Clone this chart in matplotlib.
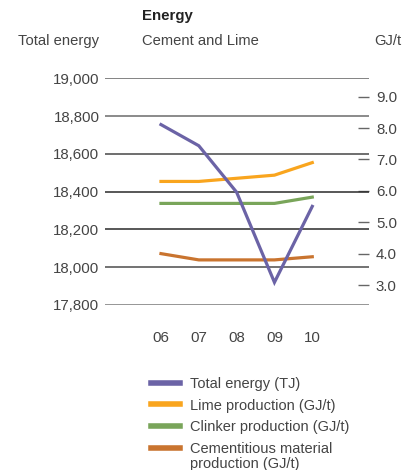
import matplotlib
matplotlib.use("Agg")
import matplotlib.pyplot as plt

plt.rcParams['font.family'] = ['Liberation Sans', 'DejaVu Sans']

# Data
years = ["06", "07", "08", "09", "10"]
total_energy_tj = [18755, 18643, 18397, 17920, 18322]
lime_gj_t = [6.3, 6.3, 6.4, 6.5, 6.9]
clinker_gj_t = [5.6, 5.6, 5.6, 5.6, 5.8]
cementitious_gj_t = [4.0, 3.8, 3.8, 3.8, 3.9]

left_ticks = [17800, 18000, 18200, 18400, 18600, 18800, 19000]
right_ticks = [3.0, 4.0, 5.0, 6.0, 7.0, 8.0, 9.0]

series_labels = ["Total energy (TJ)", "Lime production (GJ/t)",
                 "Clinker production (GJ/t)", "Cementitious material"]
last_label_cont = "production (GJ/t)"

PURPLE = "#6b63a6"
ORANGE = "#f9a51e"
GREEN = "#79a55a"
BROWN = "#c9742f"
TEXT = "#444444"

W, H = 419, 470
fig = plt.figure(figsize=(W / 100, H / 100), dpi=100)

def fx(px):
    return px / W

def fy(py):
    return 1 - py / H

ax = fig.add_axes([fx(105), fy(305), fx(369) - fx(105), fy(78.3) - fy(305)])
ax2 = ax.twinx()

x = list(range(len(years)))
ax.set_xlim(-1.48, 5.5)
ax.set_ylim(17800, 19000)
ax2.set_ylim(2.363, 9.586)

# horizontal rules for the left scale
grid_colors = ["#8c8c8c", "#5a5a5a", "#2a2a2a", "#2a2a2a", "#555555", "#8a8a8a", "#7a7a7a"]
grid_widths = [2.0, 1.2, 1.1, 1.1, 1.2, 1.4, 1.3]
for val, c, lw in zip(left_ticks, grid_colors, grid_widths):
    ax.axhline(val, color=c, lw=lw, zorder=1)

l_total, = ax.plot(x, total_energy_tj, color=PURPLE, lw=2.3, zorder=5,
                   solid_joinstyle='miter')
l_lime, = ax2.plot(x, lime_gj_t, color=ORANGE, lw=2.3, zorder=4)
l_clinker, = ax2.plot(x, clinker_gj_t, color=GREEN, lw=2.3, zorder=4)
l_cem, = ax2.plot(x, cementitious_gj_t, color=BROWN, lw=2.3, zorder=4)
ax.set_zorder(ax2.get_zorder() + 1)
ax.patch.set_visible(False)

for a in (ax, ax2):
    for s in a.spines.values():
        s.set_visible(False)

ax.set_yticks(left_ticks)
ax.set_yticklabels([f"{v:,}" for v in left_ticks])
ax.tick_params(axis='y', length=0, pad=4, labelsize=10.8, labelcolor=TEXT)
ax.set_xticks(x)
ax.set_xticklabels(years)
ax.tick_params(axis='x', length=0, pad=19, labelsize=10.8, labelcolor=TEXT)

ax2.set_yticks(right_ticks)
ax2.set_yticklabels([f"{v:.1f}" for v in right_ticks])
ax2.tick_params(axis='y', direction='in', length=8, width=1.0, color="#666666",
                pad=5, labelsize=10.8, labelcolor=TEXT)

# headings
fig.text(fx(142), fy(16), "Energy", fontsize=10.8, fontweight='bold',
         color="#222222", va='center', ha='left')
fig.text(fx(18), fy(41), "Total energy", fontsize=10.6, color=TEXT,
         va='center', ha='left')
fig.text(fx(142), fy(41), "Cement and Lime", fontsize=10.6, color=TEXT,
         va='center', ha='left')
fig.text(fx(374), fy(41), "GJ/t", fontsize=10.6, color=TEXT,
         va='center', ha='left')

leg = fig.legend([l_total, l_lime, l_clinker, l_cem], series_labels,
                 loc='upper left', bbox_to_anchor=(fx(151), fy(377)),
                 frameon=False, fontsize=10.5, handlelength=2.0,
                 handletextpad=0.7, labelspacing=0.52, borderaxespad=0,
                 borderpad=0)
for t in leg.get_texts():
    t.set_color(TEXT)
for h in leg.legend_handles:
    h.set_linewidth(4)

# second line of the last legend entry, aligned under its text
fig.canvas.draw()
last = leg.get_texts()[-1]
bb = last.get_window_extent()
fig.text(bb.x0 / W, (bb.y0 + bb.y1) / 2 / H - 15 / H, last_label_cont,
         fontsize=10.5, color=TEXT, ha='left', va='center')

fig.savefig("out.png", dpi=100)
